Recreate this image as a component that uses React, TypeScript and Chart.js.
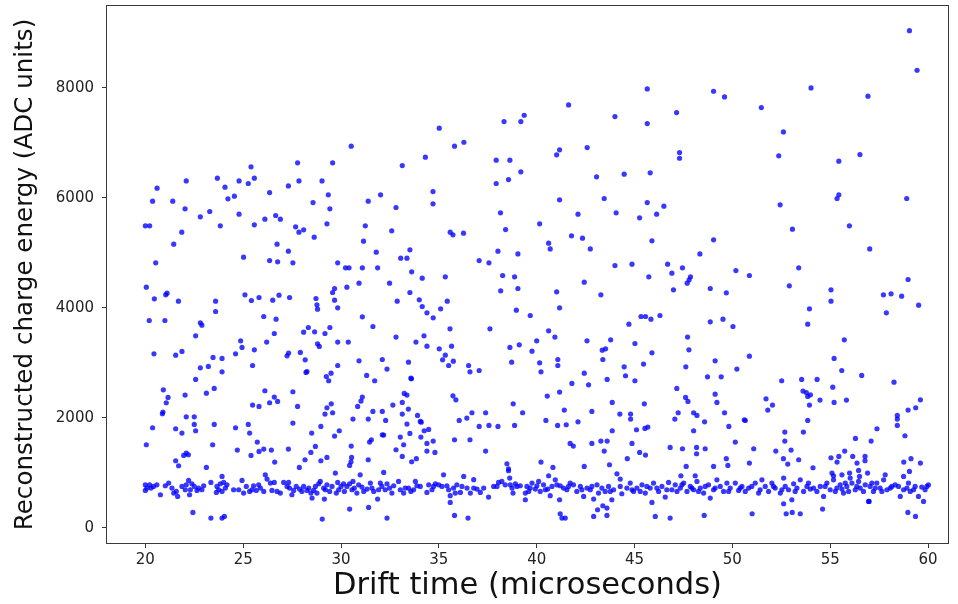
import { useEffect, useRef } from 'react';
import { Chart, registerables } from 'chart.js';

Chart.register(...registerables);

const xTicks = [20, 25, 30, 35, 40, 45, 50, 55, 60];
const yTicks = [0, 2000, 4000, 6000, 8000];

// Sparse high-energy events (above ~5100 ADC)
const highX = [
  27.78, 25.4, 20.6, 22.09, 23.68, 24.79, 25.57, 27.85, 24.07, 25.26, 27.31, 26.35, 20.37, 21.4, 24.22, 24.55, 28.57, 22.03, 23.29, 22.81, 24.79, 26.11, 26.66, 26.9, 20.0, 20.22, 23.83, 25.57, 27.68, 27.85, 28.09, 21.86, 28.63, 21.45, 26.73,
  39.36, 38.33, 39.19, 35.02, 36.28, 35.8, 30.52, 29.57, 33.13, 34.31, 37.93, 38.63, 39.19, 29.03, 37.93, 38.56, 29.35, 34.7, 31.39, 32.02, 34.7, 29.43, 32.81, 38.15, 29.28, 31.24, 32.59, 38.41, 35.58, 35.72, 36.26, 31.15,
  45.65, 49.04, 49.6, 41.63, 44.0, 47.15, 45.65, 41.17, 41.02, 42.58, 47.3, 47.3, 43.06, 44.47, 45.8, 41.17, 43.45, 45.65, 46.5, 42.11, 44.06, 45.26, 46.13, 40.15, 41.78, 42.34, 40.61, 45.89, 49.04,
  59.05, 59.44, 54.02, 56.93, 51.48, 52.61, 52.37, 55.44, 56.52, 55.44, 55.35, 58.91, 52.44, 53.07, 55.98,
];
const highY = [
  6637, 6564, 6176, 6309, 6358, 6309, 6358, 6309, 6194, 6261, 6218, 6097, 5940, 5940, 5982, 6031, 5915, 5800, 5752, 5655, 5703, 5612, 5679, 5612, 5491, 5491, 5491, 5509, 5473, 5376, 5418, 5376, 5285, 5158, 5158,
  7503, 7388, 7388, 7267, 7012, 6940, 6940, 6637, 6588, 6740, 6685, 6685, 6473, 6309, 6261, 6333, 6055, 6115, 5940, 6055, 5891, 5800, 5825, 5727, 5527, 5491, 5400, 5424, 5376, 5328, 5358, 5212,
  7982, 7939, 7836, 7691, 7479, 7552, 7352, 6873, 6782, 6915, 6824, 6721, 6382, 6430, 6455, 5964, 5988, 5915, 5849, 5703, 5727, 5637, 5703, 5527, 5309, 5267, 5176, 5218, 5237,
  9042, 8321, 8000, 7849, 7643, 7200, 6764, 6667, 6788, 6055, 5988, 5988, 5873, 5431, 5491,
];

// Mid-energy events (~1050 to 5100 ADC)
const midX = [
  27.31, 20.53, 25.02, 26.35, 26.76, 27.54, 20.05, 20.46, 21.04, 21.11, 21.69, 23.59, 23.59, 25.09, 25.42, 25.81, 26.51, 26.83, 27.37, 28.72, 28.77, 28.8, 20.2, 21.0, 22.81, 22.57, 26.05, 26.68, 26.59, 28.09, 28.33, 28.65, 24.87, 24.94, 25.57, 26.2, 20.44, 21.55, 21.87, 23.46, 23.92, 24.61, 22.81, 23.22, 23.92, 25.48, 27.24, 27.92, 28.17, 28.21, 28.8, 22.57, 20.92, 21.16, 21.07, 20.9, 22.03, 23.12, 23.52, 26.11, 26.59, 26.76, 26.35, 25.48, 25.81, 27.54, 27.78, 22.09, 22.5, 20.37, 21.55, 21.87, 22.5, 22.57, 23.52, 24.61, 25.26, 25.33, 27.54, 28.5, 20.05, 23.44, 25.72, 24.7, 25.4, 25.81, 26.05, 26.44, 27.31, 28.69, 28.46, 22.09, 21.96, 21.55, 21.7, 23.12, 26.61, 28.16, 27.87, 22.89, 20.87, 22.2, 27.32, 28.26,
  31.8, 33.52, 33.05, 33.37, 29.83, 30.23, 30.41, 31.09, 31.87, 33.61, 34.15, 35.33, 38.02, 39.04, 37.06, 37.56, 38.26, 38.87, 38.16, 39.04, 38.96, 30.92, 30.3, 29.67, 29.57, 29.67, 29.83, 32.48, 33.52, 32.87, 34.0, 34.15, 34.39, 34.71, 35.09, 35.43, 31.09, 31.63, 29.43, 29.18, 32.81, 34.24, 33.83, 34.39, 35.02, 35.65, 35.57, 35.33, 35.19, 35.74, 35.5, 37.61, 38.63, 39.11, 38.72, 29.83, 30.37, 28.89, 30.92, 32.11, 32.35, 33.45, 29.83, 29.49, 29.25, 29.37, 31.31, 31.72, 33.57, 33.6, 36.52, 36.59, 37.06, 33.23, 33.37, 35.72, 35.87, 31.09, 31.02, 30.85, 29.5, 29.28, 29.57, 29.18, 32.65, 33.13, 33.44, 33.13, 32.11, 31.63, 33.91, 34.05, 34.1, 32.28, 31.39, 30.61, 28.97, 38.8, 39.28, 37.39, 36.69, 36.43, 36.04, 37.06, 37.56, 38.02, 38.87, 33.37, 29.91, 29.67, 32.11, 32.18, 33.52, 34.25, 34.48, 33.03, 34.08, 31.55, 31.46, 30.52, 33.2, 34.39, 34.71, 35.8, 36.59, 32.81, 34.39, 34.8, 37.39, 33.13, 30.54, 30.51, 29.28, 28.97, 31.39, 33.85, 33.61, 38.48, 38.56,
  40.69, 42.74, 48.34, 44.0, 44.87, 46.69, 46.91, 47.45, 47.86, 47.79, 47.69, 45.73, 50.18, 42.43, 41.02, 43.28, 46.99, 48.87, 49.69, 41.17, 39.67, 45.33, 45.56, 45.84, 46.3, 44.71, 48.87, 49.52, 50.03, 40.61, 40.93, 40.0, 39.76, 42.57, 43.78, 43.52, 43.35, 45.02, 45.89, 47.71, 47.78, 41.08, 41.08, 40.15, 40.22, 43.38, 44.47, 45.46, 47.62, 49.12, 50.23, 42.43, 41.8, 42.65, 43.6, 44.54, 45.02, 48.73, 49.43, 47.16, 40.54, 41.17, 43.86, 45.5, 47.61, 47.73, 49.12, 49.21, 41.41, 42.82, 44.25, 44.8, 44.8, 47.23, 48.02, 48.19, 49.6, 47.06, 48.58, 40.47, 41.07, 41.51, 42.11, 43.86, 45.1, 45.53, 45.68, 48.02, 49.82, 41.71, 41.87, 42.82, 43.28, 43.6, 44.87, 43.45, 45.26, 45.56, 46.82, 47.45, 48.17, 48.61, 48.17, 50.15, 40.22, 40.83, 42.43, 43.72, 44.63, 47.64, 49.04, 49.69, 49.77,
  57.02, 53.39, 50.87, 52.91, 55.04, 55.04, 53.94, 53.85, 58.98, 57.72, 58.11, 58.65, 59.52, 57.87, 55.72, 50.87, 55.2, 55.59, 56.61, 58.26, 52.52, 53.54, 54.33, 55.13, 53.61, 53.78, 53.99, 53.85, 54.48, 53.94, 55.2, 55.83, 51.72, 52.05, 51.81, 50.61, 50.66, 53.85, 59.61, 59.37, 58.98, 58.43, 58.43, 58.43, 57.39, 52.68, 53.63, 52.68, 56.29, 57.09, 58.82, 51.09, 52.22, 53.0, 55.74, 52.61, 53.39, 52.83, 55.04, 55.44, 56.15, 56.78, 56.78, 55.35, 56.37, 58.76, 59.13, 59.61, 50.87, 54.12,
];
const midY = [
  5030, 4818, 4921, 4860, 4836, 4818, 4375, 4163, 4236, 4266, 4121, 4121, 3933, 4236, 4133, 4188, 4139, 4230, 4188, 4169, 4054, 3976, 3769, 3769, 3727, 3491, 3842, 3794, 3533, 3557, 3642, 3563, 3400, 3279, 3236, 3376, 3163, 3139, 3206, 3097, 3079, 3163, 2909, 2933, 2836, 2951, 3127, 3188, 3054, 2824, 3345, 2697, 2509, 2370, 2273, 2103, 2412, 2448, 2533, 2491, 2376, 2297, 2273, 2230, 2206, 2473, 2206, 2018, 2018, 1818, 1800, 1721, 1879, 1764, 1879, 1818, 1879, 1721, 1903, 1721, 1509, 1509, 1558, 1412, 1315, 1388, 1430, 1412, 1430, 1479, 1370, 1358, 1315, 1218, 1127, 1097, 1194, 1236, 1097, 3685, 2073, 1327, 3176, 2842,
  5012, 5054, 4903, 4903, 4818, 4727, 4727, 4727, 4727, 4654, 4539, 4563, 5030, 4981, 4860, 4818, 4588, 4563, 4309, 4351, 3957, 4448, 4375, 4351, 4279, 4139, 4000, 4448, 4279, 4121, 4145, 4024, 3909, 3818, 3982, 4121, 3836, 3660, 3642, 3533, 3467, 3491, 3376, 3303, 3254, 3303, 3618, 3139, 3054, 3030, 2951, 3618, 3279, 3327, 3012, 3376, 3376, 3297, 3036, 3060, 2885, 3012, 2951, 2812, 2751, 2673, 2770, 2673, 2721, 2710, 2951, 2836, 2860, 2442, 2412, 2400, 2327, 2376, 2303, 2206, 2254, 2182, 2091, 2067, 2230, 2279, 2158, 2067, 2115, 2115, 2042, 1933, 1920, 1951, 1976, 1976, 1842, 2254, 2091, 2091, 2091, 1994, 1951, 1842, 1860, 1842, 1860, 1885, 1764, 1667, 1691, 1685, 1715, 1764, 1788, 1648, 1648, 1600, 1558, 1485, 1509, 1533, 1576, 1600, 1600, 1418, 1394, 1370, 1394, 1297, 1279, 1200, 1279, 1218, 1236, 1255, 1200, 1164, 1073,
  5072, 5072, 4981, 4769, 4794, 4794, 4630, 4727, 4563, 4509, 4448, 4563, 4678, 4466, 4291, 4236, 4327, 4351, 4272, 4000, 3860, 3842, 3842, 3794, 3860, 3703, 3745, 3794, 3660, 3582, 3467, 3400, 3212, 3400, 3418, 3254, 3230, 3351, 3182, 3467, 3236, 3060, 2951, 3000, 2836, 3060, 2927, 2976, 2927, 3036, 2885, 2812, 2624, 2600, 2697, 2764, 2673, 2745, 2745, 2533, 2394, 2467, 2279, 2254, 2370, 2297, 2430, 2279, 2139, 2115, 2067, 2067, 1976, 2091, 2091, 2042, 2091, 1976, 1927, 1951, 1860, 1873, 1927, 1764, 1782, 1806, 1830, 1764, 1842, 1533, 1485, 1533, 1576, 1576, 1533, 1394, 1370, 1321, 1461, 1436, 1461, 1436, 1345, 1558, 1194, 1097, 1115, 1145, 1255, 1115, 1115, 1255, 1133,
  5072, 4727, 4588, 4400, 4327, 4121, 3982, 3703, 4515, 4236, 4254, 4212, 4048, 3909, 3418, 3121, 3079, 2860, 2770, 2648, 2673, 2697, 2697, 2557, 2485, 2460, 2418, 2388, 2321, 2230, 2279, 2321, 2345, 2230, 2139, 1964, 1950, 1951, 2327, 2182, 2139, 2042, 1976, 1860, 1800, 1739, 1739, 1576, 1624, 1576, 1673, 1436, 1394, 1412, 1394, 1255, 1236, 1158, 1273, 1297, 1297, 1297, 1218, 1194, 1176, 1194, 1255, 1176, 1176, 1091,
];

// Dense band of events around 700 ADC, plus those just above it
const bandX = [
  30.44, 26.13, 29.71, 30.98, 32.18, 35.24, 36.27, 36.78, 38.56, 38.62, 23.92, 40.61, 44.1, 44.27, 47.37, 48.1, 52.62, 55.09, 55.17, 55.6, 55.99, 56.45, 56.5, 56.91, 57.81, 58.75, 59.05,
  20.0, 20.22, 20.0, 20.08, 20.59, 20.77, 21.19, 21.36, 21.58, 21.65, 21.87, 22.09, 22.21, 22.3, 22.26, 22.5, 22.64, 22.89, 22.98, 23.35, 23.63, 23.75, 23.83, 24.0, 24.09, 24.51, 24.94, 25.02, 25.16, 25.33, 25.53, 25.67, 25.88, 26.05, 26.22, 26.39, 26.59, 26.73, 26.9, 27.07, 27.32, 27.37, 27.49, 27.71, 27.88, 28.09, 28.26, 28.46, 28.52, 28.69, 28.86, 28.94, 29.11, 29.15, 29.28, 29.42, 29.76, 29.83, 30.0, 30.17, 30.3, 30.44, 30.61, 30.68, 30.81, 31.07, 31.33, 31.5, 31.67, 31.87, 32.01, 32.26, 32.35, 32.48, 32.6, 32.94, 33.03, 33.2, 33.45, 33.57, 33.8, 33.88, 34.39, 34.48, 34.73, 34.99, 35.41, 35.58, 35.75, 35.92, 36.1, 36.44, 36.61, 36.95, 37.12, 37.54, 37.8, 38.05, 38.22, 38.65, 38.79, 38.91, 38.99, 39.42, 39.42,
  39.5, 39.59, 39.76, 39.93, 40.1, 40.18, 40.35, 40.44, 40.69, 40.78, 40.95, 41.03, 41.17, 41.37, 41.54, 41.71, 41.88, 42.05, 42.23, 42.4, 42.57, 42.74, 42.91, 43.08, 43.16, 43.33, 43.5, 43.67, 43.84, 43.93, 44.27, 44.35, 44.78, 44.95, 45.12, 45.38, 45.55, 45.8, 45.97, 46.23, 46.4, 46.57, 46.74, 46.91, 47.08, 47.34, 47.51, 47.68, 47.85, 48.02, 48.19, 48.36, 48.53, 48.78, 48.87, 49.04, 49.21, 49.38, 49.55, 49.72, 49.89, 50.15, 50.32, 50.49, 50.66, 50.83, 51.17, 51.34, 51.51, 51.68, 51.85, 52.02, 52.19, 52.45, 52.62, 52.7, 52.87, 53.04, 53.13, 53.3, 53.47, 53.64, 53.81, 53.98, 54.32, 54.49, 54.66, 54.83, 55.0, 55.17, 55.34, 55.51, 55.68, 55.85, 56.02, 56.11, 56.28, 56.45, 56.53, 56.79, 56.96, 57.04, 57.21, 57.38, 57.55, 57.73, 57.9, 58.15, 58.32, 58.58, 58.75, 58.92, 59.09, 59.34, 59.51, 59.68, 59.94, 60.02,
];
const bandY = [
  1133, 963, 994, 963, 1006, 963, 933, 873, 1036, 903, 933, 945, 981, 885, 945, 945, 903, 994, 945, 963, 994, 1042, 933, 994, 963, 933, 1024,
  781, 781, 679, 721, 781, 600, 812, 721, 660, 569, 751, 781, 860, 691, 600, 751, 679, 691, 763, 824, 642, 691, 800, 824, 721, 691, 860, 630, 751, 660, 763, 679, 721, 660, 885, 812, 824, 660, 630, 824, 824, 721, 600, 751, 703, 751, 679, 630, 539, 751, 800, 842, 721, 521, 781, 660, 630, 824, 751, 660, 751, 800, 842, 721, 630, 739, 703, 812, 660, 521, 812, 691, 800, 721, 630, 842, 691, 630, 721, 660, 842, 763, 642, 781, 751, 781, 763, 582, 721, 781, 642, 721, 630, 703, 642, 557, 751, 824, 842, 781, 630, 800, 751, 630, 509,
  751, 660, 812, 703, 842, 660, 781, 691, 582, 751, 872, 781, 509, 721, 691, 812, 781, 660, 751, 569, 721, 691, 521, 781, 630, 721, 660, 751, 509, 691, 751, 618, 812, 660, 721, 781, 630, 721, 812, 660, 751, 557, 824, 691, 781, 721, 812, 660, 751, 691, 842, 721, 630, 781, 539, 691, 872, 751, 660, 812, 721, 812, 679, 751, 660, 721, 812, 630, 872, 751, 660, 812, 721, 630, 436, 751, 691, 509, 800, 721, 872, 660, 751, 703, 660, 751, 569, 812, 691, 872, 721, 781, 630, 751, 903, 812, 691, 842, 721, 781, 479, 751, 660, 812, 721, 872, 691, 751, 781, 569, 691, 721, 660, 751, 569, 739, 751, 781,
];

// Further events inside the dense band (overlapping dots)
const band2X = [
  20.29, 20.42, 21.02, 21.45, 22.04, 22.38, 22.72, 23.66, 23.92, 24.17, 24.77, 25.45, 25.79, 26.47, 27.24, 27.58, 28.0, 28.35, 28.6, 28.77, 29.2, 29.54, 29.88, 30.13, 30.56, 30.9, 31.16, 31.58, 31.92, 32.09, 32.69, 33.28, 33.71, 34.05, 34.65, 34.82, 35.16, 35.5, 35.84, 36.18, 36.78, 37.29, 37.97, 38.39, 38.74, 39.16,
  39.67, 40.01, 40.56, 41.2, 41.63, 42.31, 42.82, 43.76, 44.61, 44.87, 45.29, 45.63, 46.14, 46.65, 47.17, 47.42, 47.93, 48.27, 48.61, 49.12, 49.81, 50.4, 50.99, 51.42, 52.1, 52.53, 53.21, 53.89, 54.15, 54.74, 55.26, 55.6, 55.77, 55.94, 56.36, 56.7, 57.13, 57.3, 57.64, 58.07, 58.49, 59.0, 59.26, 59.85,
];
const band2Y = [
  721, 751, 763, 630, 691, 800, 721, 751, 660, 781, 691, 691, 781, 679, 751, 679, 660, 721, 679, 630, 691, 751, 691, 800, 691, 781, 660, 721, 691, 751, 763, 721, 691, 751, 691, 800, 751, 691, 630, 751, 721, 721, 751, 781, 721, 763,
  721, 763, 703, 763, 751, 691, 751, 660, 721, 691, 660, 751, 721, 691, 660, 781, 721, 660, 751, 721, 660, 721, 751, 691, 751, 691, 660, 812, 721, 751, 660, 703, 812, 660, 751, 660, 812, 721, 660, 721, 751, 812, 691, 691,
];

// Low-energy outliers below the band
const lowX = [22.43, 23.35, 23.92, 24.04, 29.04, 30.44, 31.41, 32.35, 35.8, 36.49, 35.58, 41.2, 41.29, 41.46, 42.91, 43.11, 43.38, 43.59, 43.59, 45.89, 46.06, 46.82, 48.56, 51.01, 52.75, 53.06, 53.47, 54.61, 56.99, 58.97, 59.36, 59.77];
const lowY = [279, 175, 175, 206, 157, 339, 370, 175, 224, 175, 460, 254, 175, 175, 206, 327, 400, 357, 224, 460, 206, 175, 224, 254, 254, 279, 254, 339, 479, 279, 206, 479];

function pts(xs: number[], ys: number[]) {
  return xs.map((x, i) => ({ x, y: ys[i] }));
}

export default function App() {
  const ref = useRef<HTMLCanvasElement>(null);

  useEffect(() => {
    if (!ref.current) return;
    const frame = {
      id: 'frame',
      afterDraw(chart: any) {
        const { ctx, chartArea: a } = chart;
        ctx.save();
        ctx.strokeStyle = '#3a3a3a';
        ctx.lineWidth = 1;
        ctx.strokeRect(a.left - 0.5, a.top - 0.5, a.right - a.left + 1, a.bottom - a.top + 1);
        ctx.restore();
      },
    };
    const data = [
      ...pts(highX, highY),
      ...pts(midX, midY),
      ...pts(bandX, bandY),
      ...pts(band2X, band2Y),
      ...pts(lowX, lowY),
    ];
    const tickFont = { family: 'DejaVu Sans', size: 15 };
    const chart = new Chart(ref.current, {
      type: 'scatter',
      data: {
        datasets: [
          {
            data,
            backgroundColor: 'rgba(0,0,255,0.78)',
            borderWidth: 0,
            pointRadius: 2.6,
            pointHoverRadius: 2.6,
          },
        ],
      },
      options: {
        responsive: false,
        animation: false,
        devicePixelRatio: 1,
        layout: { padding: { top: 6, right: 10, left: 0, bottom: 0 } },
        plugins: { legend: { display: false }, tooltip: { enabled: false } },
        scales: {
          x: {
            type: 'linear',
            min: 18.04,
            max: 61.02,
            afterBuildTicks: (axis: any) => {
              axis.ticks = xTicks.map((v) => ({ value: v }));
            },
            afterFit: (scale: any) => {
              scale.height = 61;
            },
            ticks: { font: tickFont, color: '#222', padding: 3, maxRotation: 0, callback: (v: any) => String(v) },
            grid: { display: true, drawOnChartArea: false, drawTicks: true, tickLength: 5, tickColor: '#3a3a3a' },
            border: { display: false },
            title: {
              display: true,
              text: 'Drift time (microseconds)',
              font: { family: 'DejaVu Sans', size: 30.5 },
              color: '#111',
              padding: { top: 0, bottom: 0 },
            },
          },
          y: {
            type: 'linear',
            min: -278,
            max: 9490,
            afterBuildTicks: (axis: any) => {
              axis.ticks = yTicks.map((v) => ({ value: v }));
            },
            afterFit: (scale: any) => {
              scale.width = 107;
              scale.paddingTop = 0;
              scale.paddingBottom = 0;
            },
            ticks: { font: tickFont, color: '#222', padding: 8, callback: (v: any) => String(v) },
            grid: { display: true, drawOnChartArea: false, drawTicks: true, tickLength: 5, tickColor: '#3a3a3a' },
            border: { display: false },
            title: {
              display: true,
              text: 'Reconstructed charge energy (ADC units)',
              font: { family: 'DejaVu Sans', size: 24.6 },
              color: '#111',
              padding: { top: 11, bottom: 0 },
            },
          },
        },
      },
      plugins: [frame],
    });
    return () => chart.destroy();
  }, []);

  return (
    <div style={{ position: 'fixed', left: 0, top: 0, width: 958, height: 604, background: '#fff' }}>
      <canvas ref={ref} width={958} height={604} style={{ display: 'block' }} />
    </div>
  );
}
